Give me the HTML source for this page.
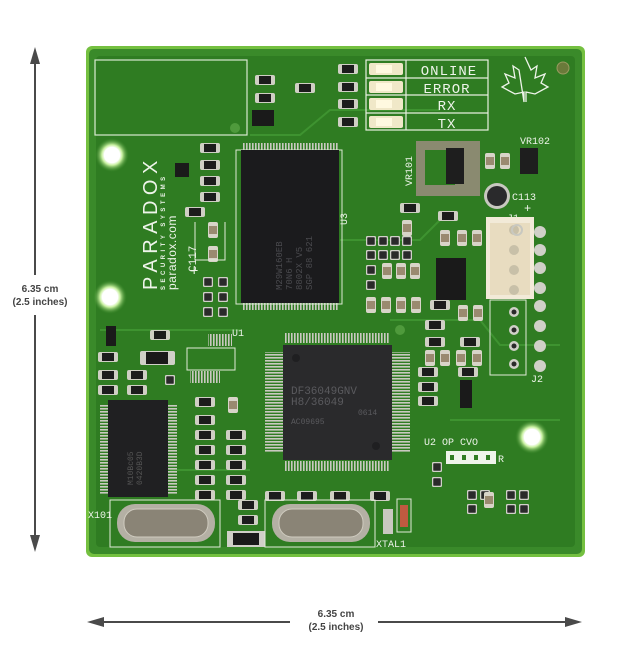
<!DOCTYPE html>
<html><head><meta charset="utf-8"><style>
html,body{margin:0;padding:0;background:#fff;}
svg{display:block;}
</style></head><body>
<svg width="631" height="650" viewBox="0 0 631 650" xmlns="http://www.w3.org/2000/svg" font-family="Liberation Sans, sans-serif">
<defs>
<symbol id="r" viewBox="0 0 20 10" width="20" height="10">
<rect x="0" y="0" width="20" height="10" rx="2" fill="#cfcfc4"/>
<rect x="4" y="1" width="12" height="8" fill="#1c1c1c"/>
</symbol>
<symbol id="c" viewBox="0 0 10 16" width="10" height="16">
<rect x="0" y="0" width="10" height="16" rx="2" fill="#d8d4c8"/>
<rect x="1" y="4" width="8" height="8" fill="#9a8a70"/>
</symbol>
<symbol id="p" viewBox="0 0 10 10" width="10" height="10">
<rect x="0.5" y="0.5" width="9" height="9" rx="1.5" fill="#2a2a2a" stroke="#d0d0c8" stroke-width="1.5"/>
</symbol>
<radialGradient id="hole" cx="50%" cy="50%" r="50%"><stop offset="45%" stop-color="#fff"/><stop offset="60%" stop-color="#c8f0a0"/><stop offset="100%" stop-color="#3a8a28" stop-opacity="0"/></radialGradient>
<pattern id="pinsH" width="3" height="10" patternUnits="userSpaceOnUse"><rect width="1.6" height="10" fill="#c9c9c0"/></pattern>
<pattern id="pinsV" width="10" height="3" patternUnits="userSpaceOnUse"><rect width="10" height="1.6" fill="#c9c9c0"/></pattern>
</defs>

<!-- arrows -->
<g fill="#4a4a4a" stroke="#4a4a4a">
<line x1="35" y1="60" x2="35" y2="275" stroke-width="2"/>
<line x1="35" y1="315" x2="35" y2="540" stroke-width="2"/>
<polygon points="35,47 30,64 40,64" stroke="none"/>
<polygon points="35,552 30,535 40,535" stroke="none"/>
<line x1="100" y1="622" x2="290" y2="622" stroke-width="2"/>
<line x1="378" y1="622" x2="570" y2="622" stroke-width="2"/>
<polygon points="87,622 104,617 104,627" stroke="none"/>
<polygon points="582,622 565,617 565,627" stroke="none"/>
</g>
<g fill="#444" font-size="10" font-weight="bold" text-anchor="middle">
<text x="40" y="292">6.35 cm</text>
<text x="40" y="305">(2.5 inches)</text>
<text x="336" y="617">6.35 cm</text>
<text x="336" y="630">(2.5 inches)</text>
</g>

<!-- board -->
<rect x="86" y="46" width="499" height="511" rx="6" fill="#74c040"/>
<rect x="89" y="49" width="493" height="505" rx="5" fill="#3a8a2a"/>
<rect x="96" y="56" width="479" height="491" rx="4" fill="#2f7c22"/>
<!-- traces -->
<g stroke="#3e9330" stroke-width="2" fill="none">
<path d="M250 135 L300 135 L330 110 L440 110"/>
<path d="M340 240 L420 240 L440 220"/>
<path d="M390 320 L480 320 L500 345 L560 345"/>
<path d="M450 420 L560 420"/>
<path d="M100 330 L240 330"/>
<path d="M170 470 L250 470"/>
</g>
<!-- holes -->
<circle cx="112" cy="155" r="17" fill="url(#hole)"/>
<circle cx="110" cy="297" r="17" fill="url(#hole)"/>
<circle cx="532" cy="437" r="17" fill="url(#hole)"/>
<circle cx="112" cy="155" r="8" fill="#fff"/>
<circle cx="110" cy="297" r="8" fill="#fff"/>
<circle cx="532" cy="437" r="8" fill="#fff"/>
<circle cx="563" cy="68" r="6" fill="#6a7a3a" stroke="#9a9a60"/>
<circle cx="235" cy="128" r="5" fill="#4f9a3c"/>
<circle cx="400" cy="330" r="5" fill="#4f9a3c"/>

<!-- silkscreen box top-left -->
<rect x="95" y="60" width="152" height="75" fill="none" stroke="#d8e8d0" stroke-width="1.2"/>
<!-- PARADOX -->
<g fill="#eef4ea" transform="translate(157,290) rotate(-90)">
<text x="0" y="0" font-size="20" letter-spacing="5.5">PARADOX</text>
<text x="0" y="8" font-size="6" font-weight="bold" letter-spacing="3.5">SECURITY SYSTEMS</text>
<text x="0" y="19" font-size="12" letter-spacing="0.5">paradox.com</text>
</g>
<g fill="#eef4ea" font-family="Liberation Mono, monospace">
<text transform="translate(196,272) rotate(-90)" font-size="11">C117</text>
<text x="190" y="275" font-size="14">+</text>
<text x="347" y="225" font-size="10" transform="rotate(-90 347 225)">U3</text>
<text x="232" y="336" font-size="10">U1</text>
<text x="88" y="518" font-size="10">X101</text>
<text x="376" y="547" font-size="10">XTAL1</text>
<text x="520" y="144" font-size="10">VR102</text>
<text transform="translate(412,186) rotate(-90)" font-size="10">VR101</text>
<text x="512" y="200" font-size="10">C113</text>
<text x="524" y="212" font-size="12">+</text>
<text x="507" y="221" font-size="10">J1</text>
<text x="531" y="382" font-size="10">J2</text>
<text x="424" y="445" font-size="10">U2 OP  CVO</text>
<text x="498" y="462" font-size="10">R</text>
</g>
<rect x="446" y="451" width="50" height="13" fill="#eef4ea"/>
<g fill="#2f7c22"><rect x="450" y="455" width="4" height="5"/><rect x="462" y="455" width="4" height="5"/><rect x="474" y="455" width="4" height="5"/><rect x="486" y="455" width="4" height="5"/></g>

<!-- LED table -->
<g stroke="#e8f0e0" stroke-width="1.2" fill="none">
<rect x="366" y="60" width="122" height="70"/>
<line x1="366" y1="78" x2="488" y2="78"/><line x1="366" y1="95" x2="488" y2="95"/><line x1="366" y1="113" x2="488" y2="113"/>
<line x1="406" y1="60" x2="406" y2="130"/>
</g>
<g fill="#eef4ea" font-size="14" font-family="Liberation Mono, monospace" text-anchor="middle" letter-spacing="1">
<text x="449" y="75">ONLINE</text><text x="447" y="93">ERROR</text><text x="447" y="110">RX</text><text x="447" y="128">TX</text>
</g>
<g fill="#f0e8c8">
<rect x="369" y="63" width="34" height="12" rx="2"/><rect x="369" y="81" width="34" height="12" rx="2"/><rect x="369" y="98" width="34" height="12" rx="2"/><rect x="369" y="116" width="34" height="12" rx="2"/>
</g>
<g fill="#fff9e0"><rect x="376" y="65" width="16" height="8"/><rect x="376" y="83" width="16" height="8"/><rect x="376" y="100" width="16" height="8"/><rect x="376" y="118" width="16" height="8"/></g>
<use href="#r" x="338" y="64"/><use href="#r" x="338" y="82"/><use href="#r" x="338" y="99"/><use href="#r" x="338" y="117"/>
<!-- maple leaf -->
<path d="M525 57 L531 70 L537 66 L535 78 L545 74 L541 83 L548 87 L535 94 L526 92 L526 102 M524 102 L524 92 L515 94 L502 87 L509 83 L505 74 L515 78 L513 66 L519 70 Z" fill="none" stroke="#eef4ea" stroke-width="1.3"/>

<!-- small parts top -->
<use href="#r" x="255" y="75"/><use href="#r" x="255" y="93"/><use href="#r" x="295" y="83" />
<rect x="252" y="110" width="22" height="16" fill="#1a1a1a"/>
<use href="#r" x="200" y="143"/><use href="#r" x="200" y="160"/><use href="#r" x="200" y="176"/><use href="#r" x="200" y="192"/><use href="#r" x="185" y="207"/>
<rect x="175" y="163" width="14" height="14" fill="#1a1a1a"/>
<use href="#c" x="208" y="222"/><use href="#c" x="208" y="246"/>
<path d="M195 222 L195 260 L225 260 L225 222" fill="none" stroke="#e0ead8"/>
<use href="#p" x="203" y="277"/><use href="#p" x="218" y="277"/><use href="#p" x="203" y="292"/><use href="#p" x="218" y="292"/><use href="#p" x="203" y="307"/><use href="#p" x="218" y="307"/>

<!-- U3 chip -->
<rect x="240" y="146" width="98" height="160" fill="url(#pinsV)" opacity="0"/>
<rect x="242" y="143" width="96" height="8" fill="url(#pinsH)"/>
<rect x="242" y="302" width="96" height="8" fill="url(#pinsH)"/>
<rect x="236" y="150" width="106" height="154" fill="none" stroke="#dde8d4" stroke-width="1"/>
<rect x="241" y="150" width="98" height="153" fill="#1b1b1d"/>
<g fill="#4a4a4e" font-size="9" font-family="Liberation Mono, monospace" transform="translate(282,290) rotate(-90)">
<text x="0" y="0">M29W160EB</text><text x="0" y="10">70N6 H</text><text x="0" y="20">8802X V5</text><text x="0" y="30">SGP 88 621</text>
</g>

<!-- U1 -->
<rect x="208" y="334" width="24" height="12" fill="url(#pinsH)"/>
<rect x="187" y="348" width="48" height="22" fill="none" stroke="#e0ead8"/>
<rect x="190" y="371" width="30" height="12" fill="url(#pinsH)"/>
<use href="#r" x="150" y="330"/>
<rect x="140" y="351" width="35" height="14" rx="2" fill="#d0d0c8"/><rect x="146" y="352" width="22" height="12" fill="#1a1a1a"/>
<rect x="106" y="326" width="10" height="20" fill="#1a1a1a"/>
<use href="#r" x="98" y="352"/><use href="#r" x="98" y="370"/><use href="#r" x="127" y="370"/><use href="#r" x="98" y="385"/><use href="#r" x="127" y="385"/>
<use href="#p" x="165" y="375"/>

<!-- left chip -->
<rect x="100" y="405" width="8" height="90" fill="url(#pinsV)"/>
<rect x="167" y="405" width="10" height="90" fill="url(#pinsV)"/>
<rect x="108" y="400" width="60" height="97" fill="#202022"/>
<g fill="#555" font-size="8" font-family="Liberation Mono, monospace" transform="translate(133,485) rotate(-90)"><text x="0" y="0">M10Bc05</text><text x="0" y="9">0420B3D</text></g>

<!-- resistor array middle-left -->
<use href="#r" x="195" y="397"/><use href="#r" x="195" y="415"/><use href="#r" x="195" y="430"/><use href="#r" x="195" y="445"/><use href="#r" x="195" y="460"/><use href="#r" x="195" y="475"/><use href="#r" x="195" y="490"/>
<use href="#r" x="226" y="430"/><use href="#r" x="226" y="445"/><use href="#r" x="226" y="460"/><use href="#r" x="226" y="475"/><use href="#r" x="226" y="490"/>
<use href="#c" x="228" y="397"/>

<!-- main MCU -->
<rect x="285" y="333" width="105" height="10" fill="url(#pinsH)"/>
<rect x="285" y="461" width="105" height="10" fill="url(#pinsH)"/>
<rect x="265" y="352" width="20" height="100" fill="url(#pinsV)"/>
<rect x="390" y="352" width="20" height="100" fill="url(#pinsV)"/>
<rect x="283" y="345" width="109" height="115" fill="#2a2a2c"/>
<circle cx="296" cy="358" r="4" fill="#1f1f21"/><circle cx="376" cy="446" r="4" fill="#1f1f21"/>
<g fill="#5a5a5e" font-size="11" font-family="Liberation Mono, monospace"><text x="291" y="394">DF36049GNV</text><text x="291" y="405">H8/36049</text><text x="358" y="415" font-size="8">0614</text><text x="291" y="424" font-size="8">AC09695</text></g>

<!-- right side -->
<rect x="416" y="141" width="64" height="55" fill="#8a8a70"/>
<rect x="425" y="150" width="30" height="35" fill="#2f7c22"/>
<rect x="446" y="148" width="18" height="36" fill="#1e1e1e"/>
<use href="#c" x="485" y="153"/><use href="#c" x="500" y="153"/>
<rect x="520" y="148" width="18" height="26" fill="#1e1e1e"/>
<circle cx="497" cy="196" r="13" fill="#c8c8c0"/><circle cx="497" cy="196" r="10" fill="#2a2a2c"/>
<use href="#r" x="400" y="203"/><use href="#r" x="438" y="211"/><use href="#c" x="402" y="220"/>
<g>
<use href="#p" x="366" y="236"/><use href="#p" x="378" y="236"/><use href="#p" x="390" y="236"/><use href="#p" x="402" y="236"/>
<use href="#p" x="366" y="250"/><use href="#p" x="378" y="250"/><use href="#p" x="390" y="250"/><use href="#p" x="402" y="250"/>
<use href="#p" x="366" y="265"/><use href="#c" x="382" y="263"/><use href="#c" x="396" y="263"/><use href="#c" x="410" y="263"/>
<use href="#p" x="366" y="280"/>
<use href="#c" x="366" y="297"/><use href="#c" x="381" y="297"/><use href="#c" x="396" y="297"/><use href="#c" x="411" y="297"/>
</g>
<rect x="436" y="258" width="30" height="42" fill="#1a1a1a"/>
<use href="#c" x="440" y="230"/><use href="#c" x="457" y="230"/><use href="#c" x="472" y="230"/>
<rect x="486" y="217" width="48" height="82" fill="#f2ead8"/>
<rect x="490" y="223" width="40" height="72" fill="#e8dcc0"/>
<g fill="#c8c0a8"><circle cx="514" cy="230" r="5"/><circle cx="514" cy="250" r="5"/><circle cx="514" cy="270" r="5"/><circle cx="514" cy="290" r="5"/></g>
<g fill="#a89a7a"><circle cx="517" cy="230" r="5" fill="none" stroke="#c8c8c0" stroke-width="2" transform="translate(0,0)"/></g>
<rect x="490" y="300" width="36" height="75" fill="none" stroke="#e0ead8"/>
<g fill="#d0d0c8"><circle cx="514" cy="312" r="5"/><circle cx="514" cy="330" r="5"/><circle cx="514" cy="346" r="5"/><circle cx="514" cy="364" r="5"/>
<circle cx="540" cy="232" r="6"/><circle cx="540" cy="250" r="6"/><circle cx="540" cy="268" r="6"/><circle cx="540" cy="288" r="6"/><circle cx="540" cy="306" r="6"/><circle cx="540" cy="326" r="6"/><circle cx="540" cy="346" r="6"/><circle cx="540" cy="366" r="6"/></g>
<g fill="#2a2a2a"><circle cx="514" cy="312" r="2.5"/><circle cx="514" cy="330" r="2.5"/><circle cx="514" cy="346" r="2.5"/><circle cx="514" cy="364" r="2.5"/></g>
<use href="#r" x="430" y="300"/><use href="#c" x="458" y="305"/><use href="#c" x="473" y="305"/>
<use href="#r" x="425" y="320"/><use href="#r" x="425" y="337"/><use href="#r" x="460" y="337"/>
<use href="#c" x="425" y="350"/><use href="#c" x="440" y="350"/><use href="#c" x="456" y="350"/><use href="#c" x="472" y="350"/>
<use href="#r" x="418" y="367"/><use href="#r" x="418" y="382"/><use href="#r" x="418" y="396"/><use href="#r" x="458" y="367"/>
<rect x="460" y="380" width="12" height="28" fill="#1a1a1a"/>
<use href="#p" x="432" y="462"/><use href="#p" x="432" y="477"/>
<use href="#p" x="467" y="490"/><use href="#p" x="480" y="490"/><use href="#p" x="506" y="490"/><use href="#p" x="519" y="490"/>
<use href="#p" x="467" y="504"/><use href="#c" x="484" y="492"/><use href="#p" x="506" y="504"/><use href="#p" x="519" y="504"/>

<!-- bottom row small parts -->
<use href="#r" x="265" y="491"/><use href="#r" x="297" y="491"/><use href="#r" x="330" y="491"/><use href="#r" x="370" y="491"/>
<use href="#r" x="238" y="500"/><use href="#r" x="238" y="515"/>
<rect x="227" y="531" width="38" height="16" fill="#d0d0c8"/><rect x="233" y="533" width="26" height="12" fill="#1a1a1a"/>
<rect x="383" y="509" width="10" height="25" fill="#c8c8c0"/>
<rect x="397" y="499" width="14" height="33" fill="none" stroke="#e0ead8"/>
<rect x="400" y="505" width="8" height="22" fill="#c05a40"/>

<!-- crystals -->
<rect x="110" y="500" width="110" height="47" fill="none" stroke="#e0ead8"/>
<rect x="117" y="504" width="98" height="38" rx="18" fill="#b4b0a4"/>
<rect x="124" y="509" width="84" height="28" rx="13" fill="#8a8476" stroke="#d0ccc0"/>
<rect x="265" y="500" width="110" height="47" fill="none" stroke="#e0ead8"/>
<rect x="272" y="504" width="98" height="38" rx="18" fill="#b4b0a4"/>
<rect x="279" y="509" width="84" height="28" rx="13" fill="#8a8476" stroke="#d0ccc0"/>
</svg>
</body></html>
